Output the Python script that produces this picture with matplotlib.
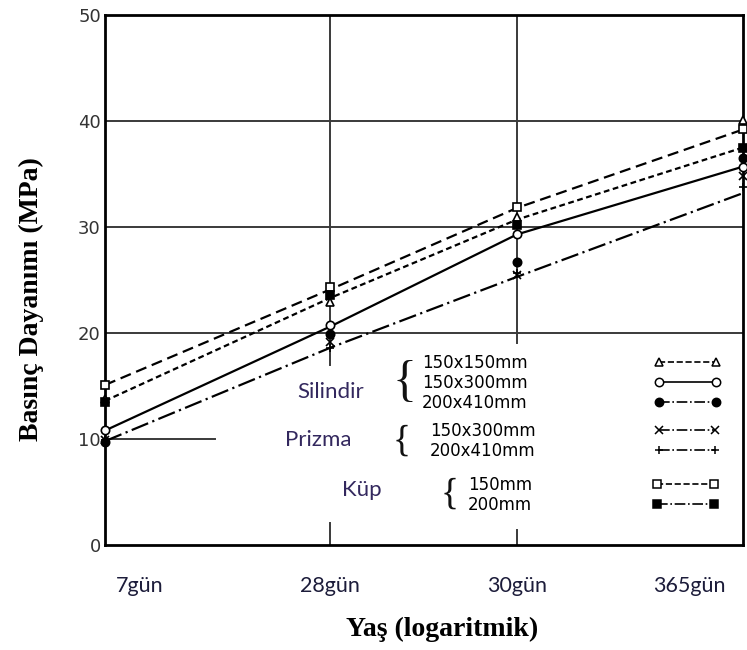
import numpy as np
import matplotlib.pyplot as plt
from matplotlib.lines import Line2D
from matplotlib.transforms import ScaledTranslation

# ages on the (log) axis
ages = ['7gün', '28gün', '30gün', '365gün']
age_pos = [0, 1, 1.831, 2.836]  # where the ages sit along the drawn axis

# fitted curves (MPa)
curve_kup150 = [15.1, 24.1, 31.8, 39.2]
curve_sil150x150 = [13.6, 23.3, 30.7, 37.5]
curve_sil150x300 = [10.8, 20.6, 29.3, 35.7]
curve_prizma = [9.8, 18.6, 25.3, 33.2]

# measured points (MPa)
pts_sil150x150 = [13.8, 22.9, 30.9, 40.1]
pts_sil150x300 = [10.85, 20.75, 29.3, 35.7]
pts_sil200x410 = [9.7, 19.9, 26.7, 36.5]
pts_prz150x300 = [9.9, 19.2, 25.5, 34.8]
pts_prz200x410 = [9.9, 18.6, 25.7, 33.8]
pts_kup150 = [15.1, 24.3, 31.9, 39.2]
pts_kup200 = [13.5, 23.6, 30.2, 37.5]

yticks = [0, 10, 20, 30, 40, 50]

fig = plt.figure(figsize=(7.47, 6.5), dpi=100)
ax = fig.add_axes([0.1406, 0.1615, 0.8541, 0.8154])
ax.set_xlim(age_pos[0], age_pos[-1])
ax.set_ylim(0, 50)

grid_c = '#3a3a3a'
# gridlines (the scan only has some of them, and some are broken)
for v in [20, 30, 40]:
    ax.axhline(v, color=grid_c, lw=1.4, zorder=1)
ax.axhline(10, xmax=0.172, color=grid_c, lw=1.4, zorder=1)
ax.axvline(age_pos[1], ymin=0.34, color=grid_c, lw=1.4, zorder=1)
ax.axvline(age_pos[1], ymax=0.041, color=grid_c, lw=1.4, zorder=1)
ax.axvline(age_pos[2], ymin=0.381, color=grid_c, lw=1.4, zorder=1)
ax.axvline(age_pos[2], ymax=0.028, color=grid_c, lw=1.4, zorder=1)

# curves
lw = 1.6
ax.plot(age_pos, curve_kup150, color='black', lw=lw, dashes=(5, 2.6), zorder=3)
ax.plot(age_pos, curve_sil150x150, color='black', lw=lw, dashes=(2.6, 1.6), zorder=3)
ax.plot(age_pos, curve_sil150x300, color='black', lw=lw, zorder=3)
ax.plot(age_pos, curve_prizma, color='black', lw=lw, dashes=(8, 2, 1, 2), zorder=3)

# points
ms = 6
mk = dict(ls='none', color='black', ms=ms, mew=1.2, clip_on=False, zorder=4)
ax.plot(age_pos, pts_sil150x150, marker='^', mfc='white', **mk)
ax.plot(age_pos, pts_sil150x300, marker='o', mfc='white', **mk)
ax.plot(age_pos, pts_sil200x410, marker='o', **mk)
ax.plot(age_pos, pts_prz150x300, marker='x', **mk)
ax.plot(age_pos, pts_prz200x410, marker='+', **mk)
ax.plot(age_pos, pts_kup150, marker='s', mfc='white', **mk)
ax.plot(age_pos, pts_kup200, marker='s', **mk)

# axes look
for s in ax.spines.values():
    s.set_linewidth(2)
ax.set_xticks(age_pos)
ax.set_xticklabels(ages, family='Lato', fontsize=15.5, color='#1c1c3a')
ax.set_yticks(yticks)
ax.set_yticklabels([str(v) for v in yticks], family='DejaVu Sans', fontsize=13, color='#333333')
ax.tick_params(axis='x', length=0, pad=22)
ax.tick_params(axis='y', length=0, pad=3)
xlabels = ax.get_xticklabels()
for lab, dx in zip(xlabels, [0.35, 0, 0, -0.54]):
    lab.set_transform(lab.get_transform() + ScaledTranslation(dx, 0, fig.dpi_scale_trans))

fig.text(0.592, 0.031, 'Yaş (logaritmik)', family='Liberation Serif', weight='bold',
         fontsize=20, ha='center', va='center')
fig.text(0.042, 0.54, 'Basınç Dayanımı (MPa)', family='Liberation Serif', weight='bold',
         fontsize=20, rotation=90, ha='center', va='center')

# legend groups
grp_c = '#33285e'
ax.text(0.353, 0.289, 'Silindir', transform=ax.transAxes, family='Lato', fontsize=16,
        color=grp_c, ha='center', va='center')
ax.text(0.334, 0.198, 'Prizma', transform=ax.transAxes, family='Lato', fontsize=16,
        color=grp_c, ha='center', va='center')
ax.text(0.403, 0.104, 'Küp', transform=ax.transAxes, family='Lato', fontsize=16,
        color=grp_c, ha='center', va='center')
brace = dict(transform=ax.transAxes, family='Liberation Serif', ha='center', va='center',
             color='#111111')
ax.text(0.47, 0.306, '{', fontsize=36, **brace)
ax.text(0.465, 0.196, '{', fontsize=27, **brace)
ax.text(0.54, 0.096, '{', fontsize=27, **brace)


def h(marker, filled, ls):
    return Line2D([], [], color='black', lw=1.2, ls=ls, marker=marker, ms=6, mew=1.1,
                  mfc='black' if filled else 'white')


leg_kw = dict(frameon=False, loc='upper left', markerfirst=False, numpoints=2,
              borderpad=0, borderaxespad=0, handlelength=4.0, labelspacing=0.1,
              prop={'family': 'DejaVu Sans', 'size': 12})

leg1 = ax.legend([h('^', False, '--'), h('o', False, '-'), h('o', True, '-.')],
                 ['150x150mm', '150x300mm', '200x410mm'],
                 bbox_to_anchor=(0.497, 0.36), handletextpad=7.6, **leg_kw)
ax.add_artist(leg1)
leg2 = ax.legend([h('x', True, '-.'), h('+', True, '-.')],
                 ['150x300mm', '200x410mm'],
                 bbox_to_anchor=(0.509, 0.232), handletextpad=7.1, **leg_kw)
ax.add_artist(leg2)
leg3 = ax.legend([h('s', False, '--'), h('s', True, '-.')],
                 ['150mm', '200mm'],
                 bbox_to_anchor=(0.569, 0.13), handletextpad=7.2, **leg_kw)

fig.savefig('out.png', dpi=100)
